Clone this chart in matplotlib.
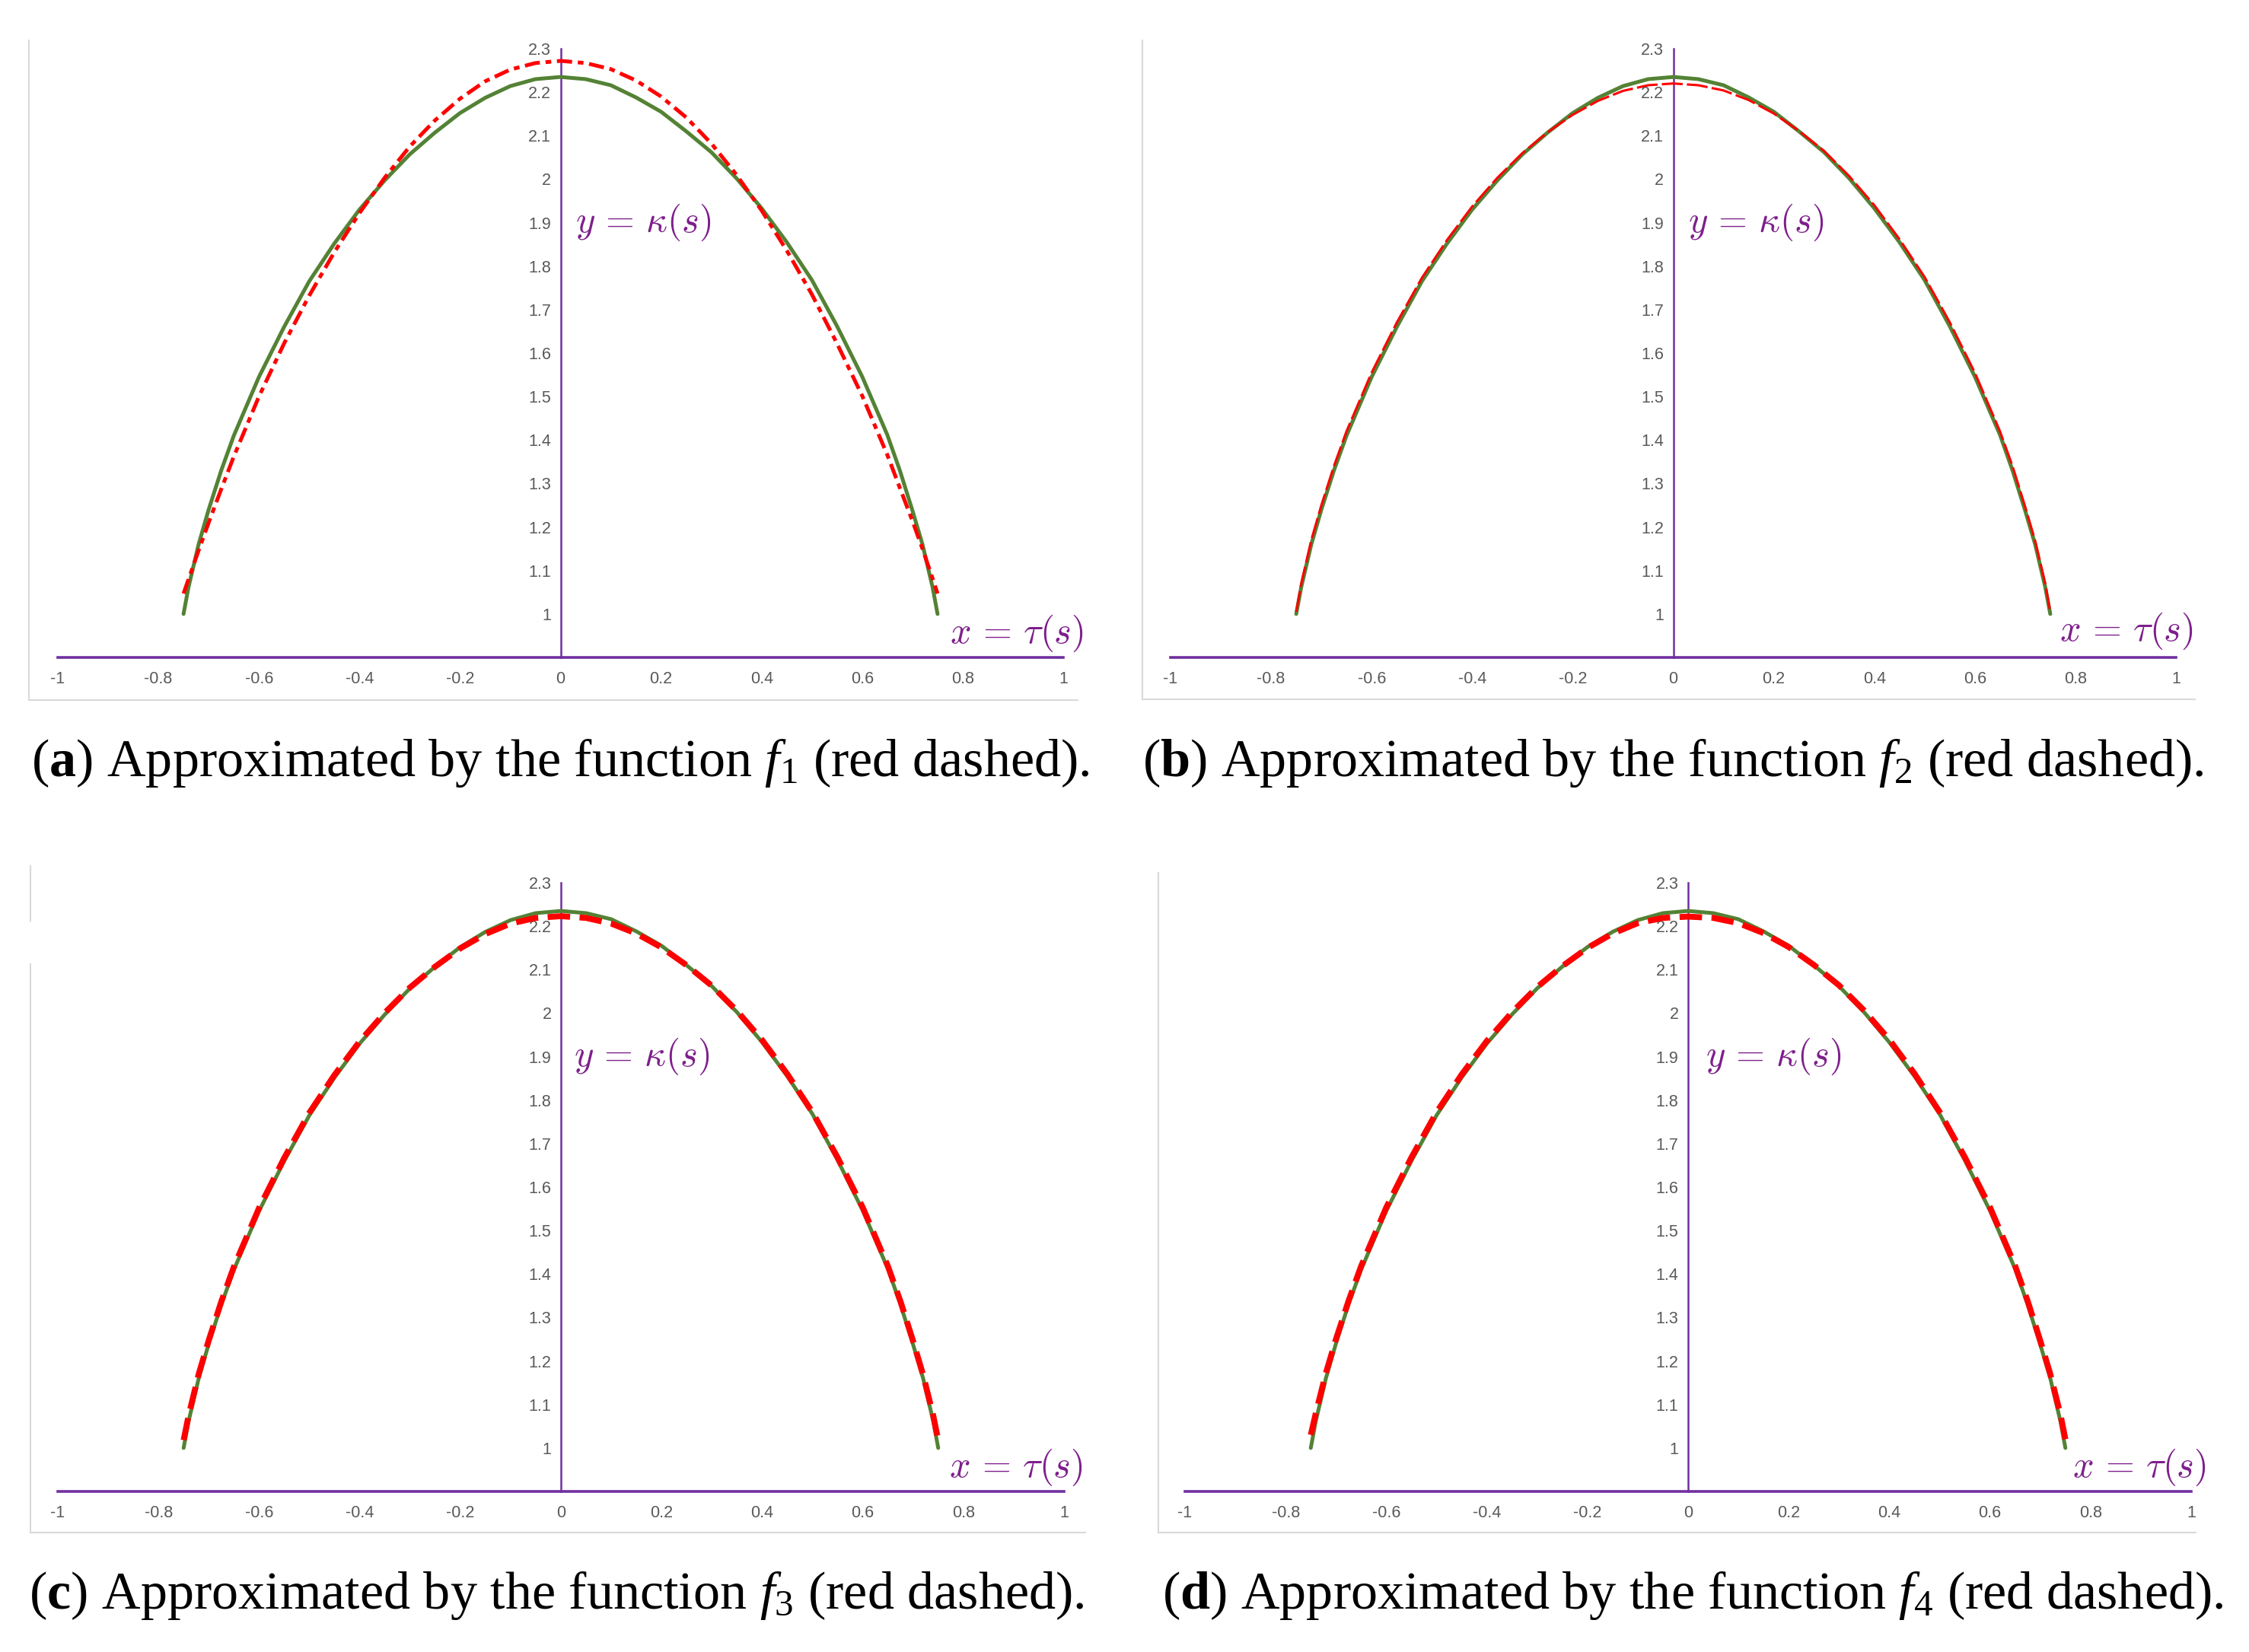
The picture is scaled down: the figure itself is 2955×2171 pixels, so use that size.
import matplotlib
matplotlib.use("Agg")
import matplotlib.pyplot as plt
from matplotlib.lines import Line2D

# fonts: narrow sans for the Excel-like tick labels, serif for the captions
plt.rcParams['font.family'] = ['Liberation Sans Narrow', 'Liberation Sans', 'DejaVu Sans']
plt.rcParams['mathtext.fontset'] = 'custom'
plt.rcParams['mathtext.rm'] = 'Liberation Serif'
plt.rcParams['mathtext.it'] = 'Liberation Serif:italic'
plt.rcParams['mathtext.bf'] = 'Liberation Serif:bold'

# data
tau = [-0.75, -0.74, -0.72, -0.70, -0.675, -0.65, -0.6, -0.55, -0.5, -0.45,
       -0.4, -0.35, -0.3, -0.25, -0.2, -0.15, -0.1, -0.05, 0.0,
       0.05, 0.1, 0.15, 0.2, 0.25, 0.3, 0.35, 0.4, 0.45, 0.5,
       0.55, 0.6, 0.65, 0.675, 0.70, 0.72, 0.74, 0.75]

kappa = [1.000, 1.062, 1.160, 1.240, 1.330, 1.410, 1.545, 1.660, 1.765, 1.852,
         1.930, 1.997, 2.057, 2.107, 2.152, 2.187, 2.214, 2.230, 2.235,
         2.230, 2.216, 2.188, 2.155, 2.110, 2.062, 2.002, 1.933, 1.855, 1.768,
         1.662, 1.546, 1.412, 1.330, 1.238, 1.160, 1.062, 1.000]

f1 = [1.047, 1.080, 1.146, 1.210, 1.287, 1.362, 1.500, 1.622, 1.732, 1.832,
      1.922, 2.003, 2.075, 2.135, 2.185, 2.225, 2.252, 2.267, 2.272,
      2.267, 2.253, 2.227, 2.190, 2.142, 2.082, 2.010, 1.928, 1.836, 1.735,
      1.622, 1.502, 1.366, 1.290, 1.214, 1.150, 1.082, 1.047]

f2 = [1.005, 1.070, 1.170, 1.250, 1.340, 1.420, 1.555, 1.670, 1.773, 1.860,
      1.937, 2.003, 2.060, 2.108, 2.148, 2.180, 2.203, 2.216, 2.220,
      2.216, 2.204, 2.182, 2.151, 2.111, 2.065, 2.007, 1.940, 1.862, 1.775,
      1.671, 1.555, 1.420, 1.340, 1.247, 1.168, 1.070, 1.005]

f3 = [1.018, 1.075, 1.170, 1.248, 1.337, 1.417, 1.552, 1.667, 1.771, 1.858,
      1.935, 2.001, 2.059, 2.107, 2.149, 2.182, 2.206, 2.219, 2.223,
      2.219, 2.206, 2.183, 2.151, 2.110, 2.063, 2.005, 1.938, 1.860, 1.772,
      1.668, 1.553, 1.418, 1.337, 1.246, 1.168, 1.075, 1.018]

f4 = [1.030, 1.080, 1.172, 1.250, 1.338, 1.418, 1.553, 1.668, 1.772, 1.859,
      1.936, 2.002, 2.060, 2.108, 2.150, 2.183, 2.207, 2.219, 2.222,
      2.219, 2.207, 2.184, 2.152, 2.111, 2.064, 2.006, 1.939, 1.861, 1.773,
      1.669, 1.554, 1.419, 1.338, 1.247, 1.170, 1.078, 1.020]

xticks = [-1, -0.8, -0.6, -0.4, -0.2, 0, 0.2, 0.4, 0.6, 0.8, 1]
xtick_labels = ['-1', '-0.8', '-0.6', '-0.4', '-0.2', '0', '0.2', '0.4', '0.6', '0.8', '1']
yticks = [1.0, 1.1, 1.2, 1.3, 1.4, 1.5, 1.6, 1.7, 1.8, 1.9, 2.0, 2.1, 2.2, 2.3]
ytick_labels = ['1', '1.1', '1.2', '1.3', '1.4', '1.5', '1.6', '1.7', '1.8', '1.9',
                '2', '2.1', '2.2', '2.3']

captions = [r"($\mathbf{a}$) Approximated by the function $f_1$ (red dashed).",
            r"($\mathbf{b}$) Approximated by the function $f_2$ (red dashed).",
            r"($\mathbf{c}$) Approximated by the function $f_3$ (red dashed).",
            r"($\mathbf{d}$) Approximated by the function $f_4$ (red dashed)."]

GREEN = '#548235'
RED = '#FF0000'
PURPLE = '#7030A0'
LABEL = '#7E1F8C'
TICKC = '#595959'
FRAME = '#D9D9D9'

W, H = 2955, 2171
fig = plt.figure(figsize=(W / 100, H / 100), dpi=100)


def rect(x0, x1, ytop, ybot):
    return [x0 / W, 1 - ybot / H, (x1 - x0) / W, (ybot - ytop) / H]


def frame_line(xs, ys):
    fig.add_artist(Line2D([x / W for x in xs], [1 - y / H for y in ys],
                          transform=fig.transFigure, color=FRAME, lw=1.5))


def panel(pos, red, red_lw, red_dash, ylab_x, xlab_x, xlab_y):
    ax = fig.add_axes(pos)
    ax.plot(tau, kappa, color=GREEN, lw=3.6, solid_capstyle='round', zorder=3)
    ax.plot(tau, red, color=RED, lw=red_lw, dashes=red_dash, zorder=4)
    ax.set_xlim(-1, 1)
    ax.set_ylim(0.9, 2.3)
    ax.spines['top'].set_visible(False)
    ax.spines['right'].set_visible(False)
    ax.spines['left'].set_position(('data', 0))
    ax.spines['left'].set_color(PURPLE)
    ax.spines['left'].set_linewidth(1.8)
    ax.spines['bottom'].set_color(PURPLE)
    ax.spines['bottom'].set_linewidth(2.6)
    ax.set_xticks(xticks)
    ax.set_xticklabels(xtick_labels)
    ax.set_yticks(yticks)
    ax.set_yticklabels(ytick_labels)
    ax.tick_params(axis='both', length=0, labelsize=15.5, labelcolor=TICKC)
    ax.tick_params(axis='x', pad=13)
    ax.tick_params(axis='y', pad=9)
    ax.patch.set_alpha(0)
    ax.text(ylab_x, 1.9, r"$y\,=\,\kappa(s)$", math_fontfamily='cm', fontsize=35,
            color=LABEL, ha='left', va='center')
    ax.text(xlab_x, xlab_y, r"$x\,=\,\tau(s)$", math_fontfamily='cm', fontsize=35,
            color=LABEL, ha='right', va='center', clip_on=False)
    return ax


panel(rect(76, 1397, 64, 864), f1, 3.6, (4.0, 1.5, 1.5, 1.5), 0.03, 1.04, 0.955)
panel(rect(1538, 2859, 64, 864), f2, 2.2, (9, 1.8), 0.03, 1.035, 0.96)
panel(rect(76, 1398, 1160, 1960), f3, 5.6, (3.8, 1.6), 0.025, 1.037, 0.955)
panel(rect(1557, 2879, 1160, 1960), f4, 5.6, (3.8, 1.6), 0.035, 1.03, 0.955)

# light chart-area borders (left and bottom only are visible)
frame_line([38, 38], [53, 920])
frame_line([38, 1416], [920, 920])
frame_line([1501, 1501], [53, 919])
frame_line([1501, 2884], [919, 919])
frame_line([40, 40], [1138, 1210])
frame_line([40, 40], [1267, 2014])
frame_line([40, 1426], [2014, 2014])
frame_line([1522, 1522], [1147, 2014])
frame_line([1522, 2885], [2014, 2014])

# captions
cap_pos = [(41, 1003), (1501, 1003), (38, 2097), (1527, 2097)]
for (cx, cy), txt in zip(cap_pos, captions):
    fig.text(cx / W, 1 - cy / H, txt, fontsize=50.5, family='Liberation Serif',
             ha='left', va='center', color='black')

fig.savefig('out.png', dpi=100)
